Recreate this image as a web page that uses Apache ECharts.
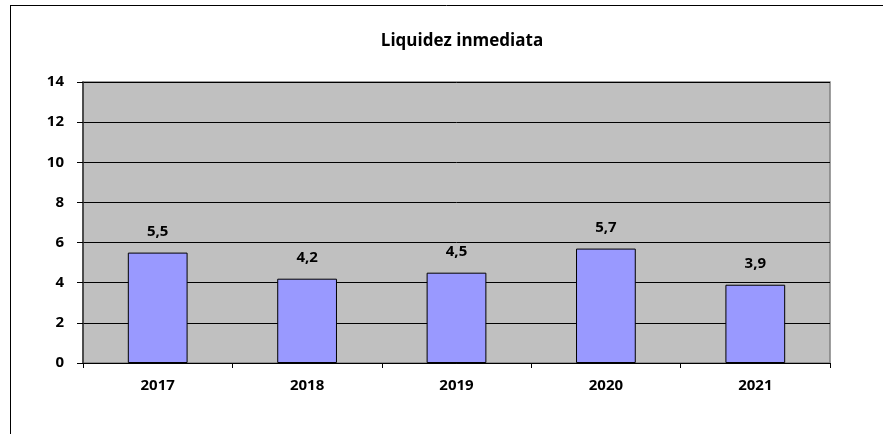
<!DOCTYPE html>
<html>
<head>
<meta charset="utf-8">
<script src="https://cdn.jsdelivr.net/npm/echarts@6/dist/echarts.min.js"></script>
<style>
  html, body { margin: 0; padding: 0; background: #fff; }
  #chart { width: 883px; height: 434px; }
</style>
</head>
<body>
<div id="chart"></div>
<script>
var years = ['2017', '2018', '2019', '2020', '2021'];
var liquidez = [5.5, 4.2, 4.5, 5.7, 3.9];
var yTicks = [0, 2, 4, 6, 8, 10, 12, 14];

var chart = echarts.init(document.getElementById('chart'));
var font = 'Open Sans';

var option = {
  backgroundColor: '#fff',
  animation: false,
  title: {
    text: 'Liquidez inmediata',
    left: 457,
    top: 28,
    textAlign: 'center',
    textStyle: { fontFamily: font, fontWeight: 'bold', fontSize: 17, color: '#000' }
  },
  graphic: [
    // outer chart frame (clipped at right and bottom)
    { type: 'line', shape: { x1: 10, y1: 5.5, x2: 883, y2: 5.5 }, style: { stroke: '#000', lineWidth: 1 } },
    { type: 'line', shape: { x1: 10.5, y1: 5, x2: 10.5, y2: 434 }, style: { stroke: '#000', lineWidth: 1 } }
  ],
  grid: {
    left: 83,
    top: 82,
    width: 747,
    height: 281,
    show: true,
    backgroundColor: '#c0c0c0',
    borderColor: '#808080',
    borderWidth: 1.5
  },
  xAxis: {
    type: 'category',
    data: years,
    boundaryGap: true,
    axisLine: { lineStyle: { color: '#000', width: 1 } },
    axisTick: { show: true, length: 5, alignWithLabel: false, lineStyle: { color: '#000' } },
    axisLabel: { fontFamily: font, fontWeight: 'bold', fontSize: 15, color: '#000', margin: 15 },
    splitLine: { show: false }
  },
  yAxis: {
    type: 'value',
    min: yTicks[0],
    max: yTicks[yTicks.length - 1],
    interval: 2,
    axisLine: { show: true, lineStyle: { color: '#333', width: 1.5 } },
    axisTick: { show: true, length: 6, lineStyle: { color: '#000' } },
    axisLabel: { fontFamily: font, fontWeight: 'bold', fontSize: 15, color: '#000', margin: 19 },
    splitLine: { show: true, lineStyle: { color: '#000', width: 1 } }
  },
  series: [
    {
      type: 'bar',
      data: liquidez,
      barWidth: '40%',
      itemStyle: { color: '#9999ff', borderColor: '#000', borderWidth: 1 },
      label: {
        show: true,
        position: 'top',
        distance: 13,
        fontFamily: font,
        fontWeight: 'bold',
        fontSize: 15,
        color: '#000',
        formatter: function (p) { return p.value.toFixed(1).replace('.', ','); }
      }
    }
  ]
};

chart.setOption(option);
</script>
</body>
</html>
